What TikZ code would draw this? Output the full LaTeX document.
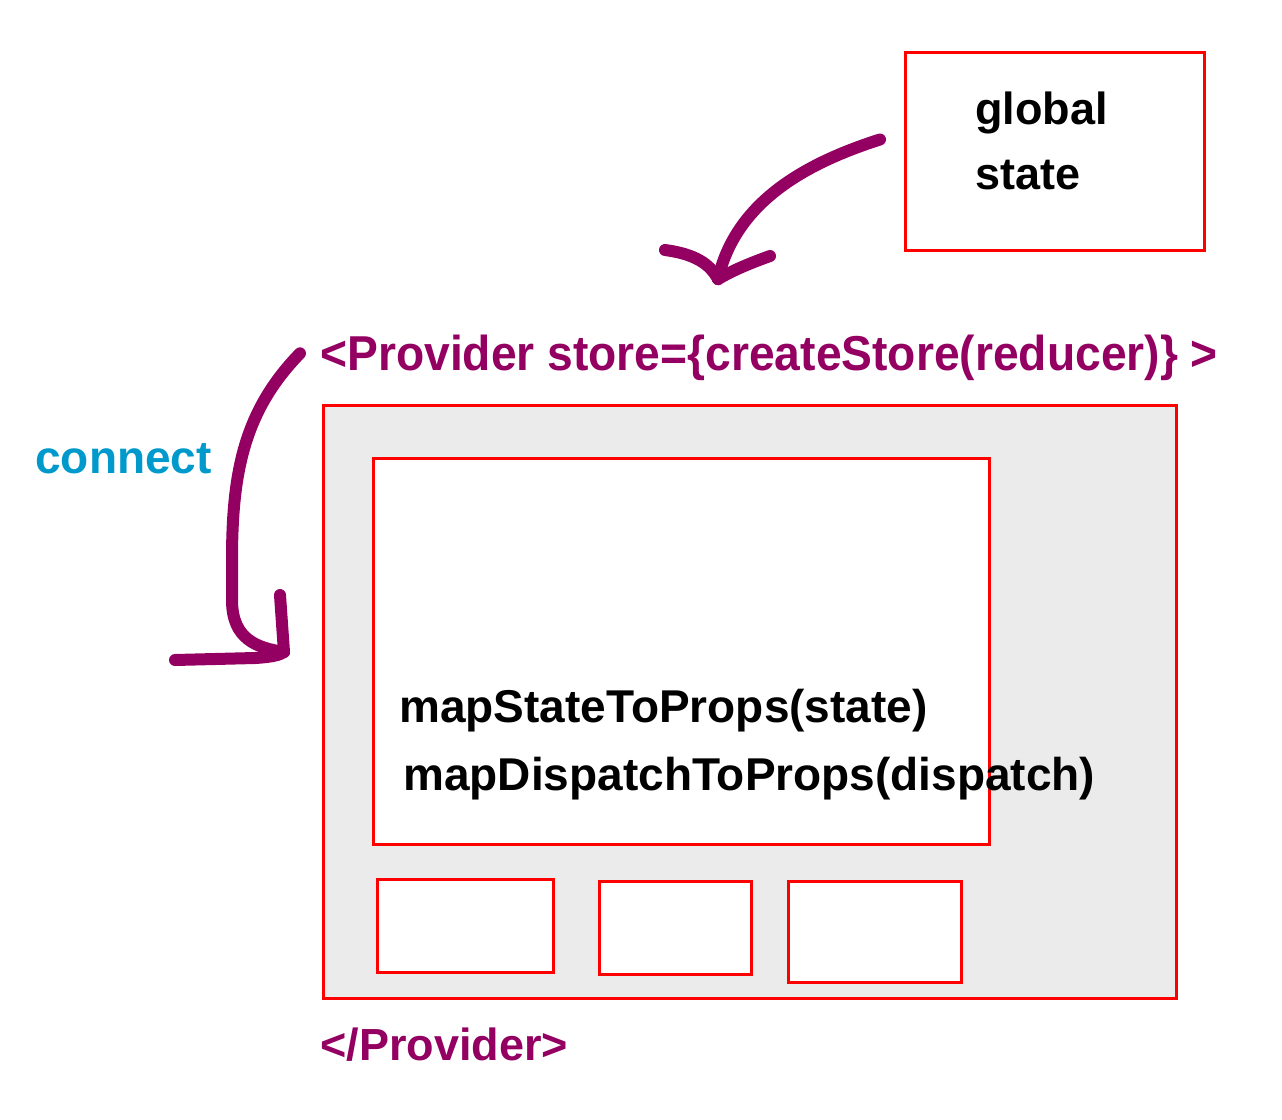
\documentclass[tikz,border=0pt]{standalone}
\usepackage{fontspec}
\setmainfont{Liberation Sans}
\usetikzlibrary{calc}
\definecolor{provcolor}{RGB}{147,0,98}
\definecolor{conncolor}{RGB}{0,153,204}
\definecolor{boxgrey}{RGB}{235,235,235}

\tikzset{
    redbox/.style={draw=red, line width=1.5pt, anchor=north west, inner sep=0pt},
    label/.style={anchor=base west, inner sep=0pt},
    pen/.style={draw=provcolor, line width=6pt, line cap=round, line join=round},
}

\begin{document}
\begin{tikzpicture}[x=0.5pt, y=-0.5pt]
    \useasboundingbox (0,0) rectangle (1282,1120);
    % global state box
    \node[redbox, minimum width=149.5pt, minimum height=99pt] (global) at (904,51) {};
    \node[anchor=north west, inner sep=0pt, align=left, font=\fontsize{22.5pt}{32.5pt}\selectfont\bfseries] (gstext) at (975,91) {global\\state};
    % provider tag and box
    \node[label, text=provcolor, font=\fontsize{24.5pt}{28pt}\selectfont\bfseries] (provtag) at (320,370) {\scalebox{0.943}[1]{<Provider store=\{createStore(reducer)\} >}};
    \node[redbox, fill=boxgrey, minimum width=426.5pt, minimum height=296.5pt] (provbox) at (322,404) {};
    \node[redbox, fill=white, minimum width=308pt, minimum height=193pt] (comp) at (372,457) {};
    \node[redbox, fill=white, minimum width=88pt, minimum height=46.5pt] (childa) at (376,878) {};
    \node[redbox, fill=white, minimum width=76pt, minimum height=46.5pt] (childb) at (598,880) {};
    \node[redbox, fill=white, minimum width=86.5pt, minimum height=50.5pt] (childc) at (787,880) {};
    \node[label, font=\fontsize{23pt}{28pt}\selectfont\bfseries] (mapstate) at (399,722) {mapStateToProps(state)};
    \node[label, font=\fontsize{23pt}{28pt}\selectfont\bfseries] (mapdisp) at (403,790) {mapDispatchToProps(dispatch)};
    \node[label, text=provcolor, font=\fontsize{22.5pt}{28pt}\selectfont\bfseries] (provend) at (320,1060) {</Provider>};
    \node[label, text=conncolor, font=\fontsize{23pt}{28pt}\selectfont\bfseries] (connect) at (35,473) {connect};

    % arrow from global state to the provider
    \coordinate (gsout) at ($(global.west)+(-24,-12)$);
    \coordinate (tipa) at ($(provtag.north west)+(398,-55)$);
    \draw[pen] (gsout) .. controls (800,165) and (735,205) .. (tipa);
    \draw[pen] (665,250) .. controls (695,254) and (710,264) .. (tipa);
    \draw[pen] (770,256) .. controls (745,265) and (730,272) .. (tipa);

    % connect arrow into the component
    \coordinate (conin) at ($(provtag.west)+(-20,-4)$);
    \coordinate (tipb) at ($(provbox.west)+(-38,-50)$);
    \draw[pen] (conin) .. controls (245,410) and (232,470) .. (232,560)
        -- (232,600) .. controls (232,640) and (258,648) .. (tipb);
    \draw[pen] (280,595) -- (tipb);
    \draw[pen] (175,660) -- (255,658) .. controls (272,657) and (280,655) .. (tipb);
\end{tikzpicture}
\end{document}
